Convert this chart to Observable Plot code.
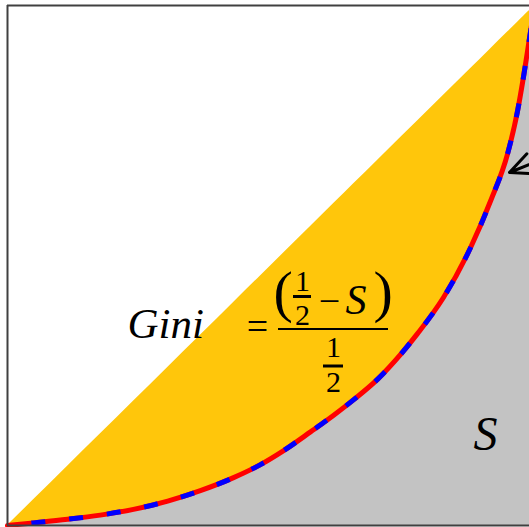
<!DOCTYPE html>
<html><head><meta charset="utf-8">
<script src="https://cdn.jsdelivr.net/npm/d3@7"></script>
<script src="https://cdn.jsdelivr.net/npm/@observablehq/plot@0.6"></script>
<style>html,body{margin:0;padding:0;overflow:hidden;background:#fff}</style>
</head><body><div id="chart"></div>
<script>
// Lorenz curve (cumulative population share -> cumulative income share)
const lorenzX = [0, 0.049, 0.114, 0.176, 0.239, 0.304, 0.366, 0.429, 0.480, 0.524, 0.575, 0.619, 0.657, 0.702, 0.746, 0.778, 0.827, 0.879, 0.917, 0.949, 0.968, 0.979, 0.989, 1];
const lorenzY = [0, 0.005, 0.012, 0.020, 0.031, 0.047, 0.067, 0.092, 0.117, 0.144, 0.180, 0.212, 0.242, 0.281, 0.329, 0.369, 0.438, 0.535, 0.625, 0.715, 0.798, 0.862, 0.927, 1];
const giniLabel = "Gini";
const eqLabel = "=";
const oneLabel = "1";
const twoLabel = "2";
const minusLabel = "\u2212";
const sLabel = "S";
const openParen = "(";
const closeParen = ")";

const lorenz = lorenzX.map((x, i) => ({x, y: lorenzY[i]}));

// pixel helpers for annotation placement
const X = px => (px - 7) / 527;
const Y = py => (525 - py) / 520;
const serif = "Liberation Serif";
function label(str, px, py, size, opts = {}) {
  return Plot.text([0], {
    x: () => X(px), y: () => Y(py), text: () => str,
    fontSize: size, fontFamily: serif, lineAnchor: "bottom",
    textAnchor: "start", fill: "black", ...opts
  });
}
function bar(px1, px2, py, w) {
  return Plot.ruleY([0], {y: () => Y(py), x1: () => X(px1), x2: () => X(px2), stroke: "black", strokeWidth: w});
}

const chart = Plot.plot({
  width: 529, height: 527, margin: 0,
  x: {domain: [0, 1], range: [7, 534], axis: null},
  y: {domain: [0, 1], range: [525, 5], axis: null},
  style: {background: "white", overflow: "hidden"},
  marks: [
    Plot.areaY(lorenz, {x: "x", y: "y", fill: "#c3c3c3", curve: "monotone-x"}),
    Plot.areaY(lorenz, {x: "x", y1: "y", y2: "x", fill: "#ffc60b", curve: "monotone-x"}),
    Plot.line(lorenz, {x: "x", y: "y", stroke: "#ff0000", strokeWidth: 5, curve: "monotone-x"}),
    Plot.line(lorenz, {x: "x", y: "y", stroke: "#0000ff", strokeWidth: 5, curve: "monotone-x", strokeDasharray: "14,24", strokeDashoffset: 14, strokeLinecap: "butt"}),
    Plot.ruleX([0], {y1: 0, y2: 1, stroke: "#404040", strokeWidth: 2}),
    Plot.ruleY([0, 1], {x1: 0, x2: 1, stroke: "#404040", strokeWidth: 2}),
    Plot.arrow([0], {x1: () => X(580), y1: () => Y(143), x2: () => X(509), y2: () => Y(172), stroke: "black", strokeWidth: 3, headLength: 16, headAngle: 50}),
    label(giniLabel, 127, 337, 43, {fontStyle: "italic"}),
    label(eqLabel, 257, 338, 38, {textAnchor: "middle"}),
    label(openParen, 273, 310, 58),
    label(oneLabel, 302, 290, 30, {textAnchor: "middle"}),
    bar(293, 311, 296, 3),
    label(twoLabel, 302, 324, 30, {textAnchor: "middle"}),
    label(minusLabel, 329, 313, 38, {textAnchor: "middle"}),
    label(sLabel, 345, 313, 42, {fontStyle: "italic"}),
    label(closeParen, 373, 310, 58),
    bar(278, 388, 328.5, 2),
    label(oneLabel, 333, 356, 30, {textAnchor: "middle"}),
    bar(323, 343, 365.5, 3),
    label(twoLabel, 333, 391, 30, {textAnchor: "middle"}),
    label(sLabel, 473, 449, 48, {fontStyle: "italic"})
  ]
});
document.getElementById("chart").appendChild(chart);
</script>
</body></html>
